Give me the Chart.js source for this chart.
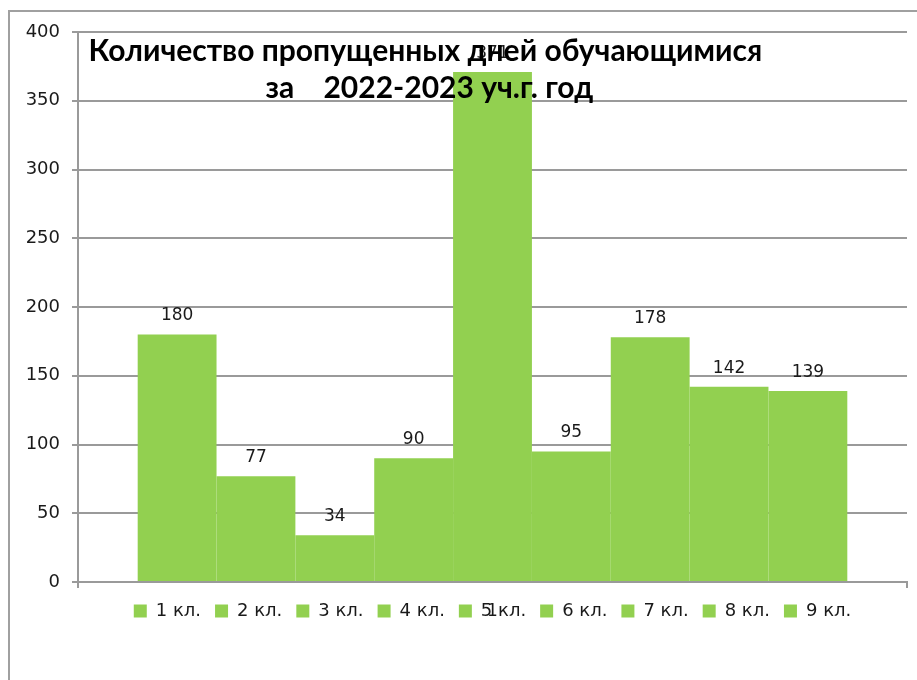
<!DOCTYPE html>
<html>
<head>
<meta charset="utf-8">
<script src="https://cdn.jsdelivr.net/npm/chart.js@4/dist/chart.umd.min.js"></script>
<style>
  html, body { margin: 0; padding: 0; background: #fff; overflow: hidden; }
  #wrap { position: relative; width: 917px; height: 680px; }
  #frame { position: absolute; left: 8px; top: 10px; width: 1000px; height: 800px; border: 2px solid #a0a0a0; box-sizing: border-box; }
  canvas { position: absolute; left: 0; top: 0; }
</style>
</head>
<body>
<div id="wrap">
  <div id="frame"></div>
  <canvas id="chart" width="917" height="680"></canvas>
</div>
<script>
const categories = ['1'];
const classes = ['1 кл.', '2 кл.', '3 кл.', '4 кл.', '5 кл.', '6 кл.', '7 кл.', '8 кл.', '9 кл.'];
const absences = [180, 77, 34, 90, 371, 95, 178, 142, 139];
const yMax = 400;
const yStep = 50;
const titleLines = ['Количество пропущенных дней обучающимися', 'за    2022-2023 уч.г. год'];

const barColor = '#92d050';
const gridColor = '#9a9a9a';
const font = 'DejaVu Sans, sans-serif';

// value labels above each bar + the category label under the axis
const valueLabels = {
    id: 'valueLabels',
    afterDatasetsDraw(chart) {
        const ctx = chart.ctx;
        ctx.save();
        ctx.font = '17px ' + font;
        ctx.fillStyle = '#1a1a1a';
        ctx.textAlign = 'center';
        ctx.textBaseline = 'bottom';
        chart.data.datasets.forEach((ds, i) => {
            chart.getDatasetMeta(i).data.forEach((bar, j) => {
                ctx.fillText(ds.data[j], bar.x, bar.y - 10);
            });
        });
        ctx.restore();
    },
    afterDraw(chart) {
        const ctx = chart.ctx;
        const xs = chart.scales.x;
        ctx.save();
        ctx.font = '17px ' + font;
        ctx.fillStyle = '#1a1a1a';
        ctx.textAlign = 'center';
        ctx.textBaseline = 'middle';
        chart.data.labels.forEach((lab, i) => {
            ctx.fillText(lab, xs.getPixelForValue(i), xs.top + 30);
        });
        ctx.restore();
    }
};

// title drawn inside the plot, on top of the bars
const insideTitle = {
    id: 'insideTitle',
    afterDraw(chart) {
        const ctx = chart.ctx;
        const a = chart.chartArea;
        const cx = a.left + (a.right - a.left) * 0.419;
        ctx.save();
        ctx.font = 'bold 30px Lato, sans-serif';
        ctx.fillStyle = '#000';
        ctx.textAlign = 'center';
        ctx.textBaseline = 'middle';
        ctx.fillText(titleLines[0], cx, a.top + 19);
        ctx.fillText(titleLines[1], cx + 4, a.top + 56);
        ctx.restore();
    }
};

new Chart(document.getElementById('chart'), {
    type: 'bar',
    plugins: [valueLabels, insideTitle],
    data: {
        labels: categories,
        datasets: classes.map((c, i) => ({
            label: c,
            data: [absences[i]],
            backgroundColor: barColor,
            borderWidth: 0,
            barPercentage: 1,
            categoryPercentage: 0.856
        }))
    },
    options: {
        responsive: false,
        animation: false,
        layout: {
            padding: { left: 0, right: 10, top: 32, bottom: 50 }
        },
        plugins: {
            legend: {
                position: 'bottom',
                fullSize: false,
                labels: {
                    boxWidth: 13,
                    boxHeight: 13,
                    padding: 14,
                    color: '#1a1a1a',
                    font: { family: font, size: 18 }
                }
            },
            title: { display: false },
            tooltip: { enabled: false }
        },
        scales: {
            x: {
                grid: {
                    drawOnChartArea: false,
                    drawTicks: true,
                    tickLength: 6,
                    color: gridColor,
                    lineWidth: 2
                },
                border: { color: gridColor, width: 2 },
                ticks: { display: false },
                afterFit(axis) { axis.height = 6; }
            },
            y: {
                min: 0,
                max: yMax,
                grid: {
                    color: gridColor,
                    lineWidth: 2,
                    tickLength: 6
                },
                border: { color: gridColor, width: 2 },
                ticks: {
                    stepSize: yStep,
                    color: '#1a1a1a',
                    font: { family: font, size: 18 },
                    padding: 12
                },
                afterFit(axis) { axis.width = 78; }
            }
        }
    }
});
</script>
</body>
</html>
